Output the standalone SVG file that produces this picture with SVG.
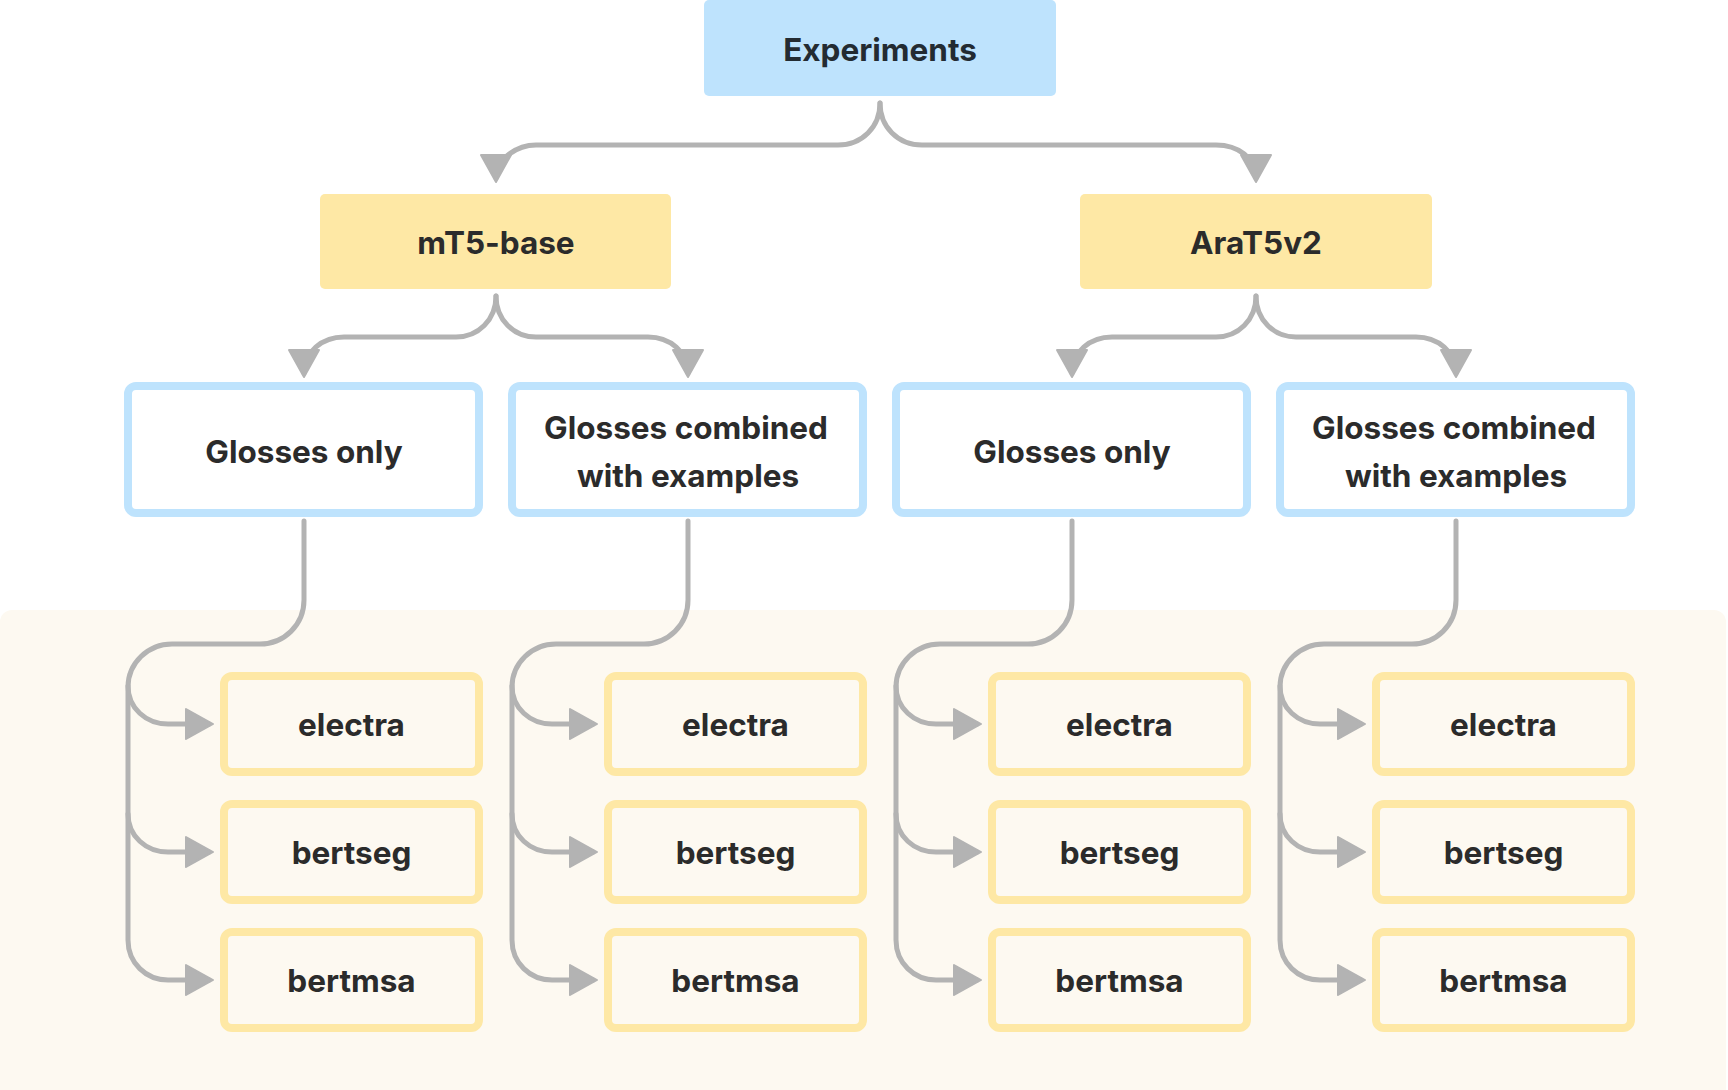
<svg xmlns="http://www.w3.org/2000/svg" width="1728" height="1090" viewBox="0 0 1728 1090">
<defs>
<style>
.t{font-family:Inter,"Liberation Sans",sans-serif;font-weight:700;font-size:31.5px;text-anchor:middle;dominant-baseline:central;fill:#2b2b2b}
.top{fill:#bee3fd}
.model{fill:#fee8a5}
.mode{fill:#ffffff;stroke:#bee3fd;stroke-width:8}
.leaf{fill:#fdf9f1;stroke:#fee8a5;stroke-width:8}
.c{fill:none;stroke:#b3b3b3;stroke-width:5;stroke-linecap:round;marker-end:url(#ah)}
</style>
<marker id="ah" markerUnits="userSpaceOnUse" viewBox="0 0 27 30" markerWidth="27" markerHeight="30" refX="23" refY="15" orient="auto" overflow="visible">
<path d="M0,0 L27,15 L0,30 Z" fill="#b3b3b3" stroke="#b3b3b3" stroke-width="2" stroke-linejoin="round"/>
</marker>
</defs>
<rect x="0" y="0" width="1728" height="1090" fill="#ffffff"/>
<rect id="panel" x="0" y="610" width="1726" height="500" rx="12" fill="#fdf9f1"/>

<g id="connectors">
<path class="c" d="M880,103 C880,127 862,145 838,145 L536,145 C518,145 496,158 496,178"/>
<path class="c" d="M880,103 C880,127 898,145 922,145 L1216,145 C1238,145 1256,158 1256,178"/>
<path class="c" d="M496,296 C496,320 478,337 456,337 L344,337 C322,337 304,352 304,373"/>
<path class="c" d="M496,296 C496,320 514,337 536,337 L648,337 C670,337 688,352 688,373"/>
<path class="c" d="M1256,296 C1256,320 1238,337 1216,337 L1112,337 C1090,337 1072,352 1072,373"/>
<path class="c" d="M1256,296 C1256,320 1274,337 1296,337 L1416,337 C1438,337 1456,352 1456,373"/>
<g id="col0c">
<path class="c" d="M304,521 L304,600 C304,625 284,644 260,644 L172,644 C148,644 128,663 128,687 L128,940 C128,963 146,980 168,980 L209,980"/>
<path class="c" d="M128,686 C128,708 146,724 168,724 L209,724"/>
<path class="c" d="M128,814 C128,836 146,852 168,852 L209,852"/>
</g>
<g id="col1c" transform="translate(384,0)">
<path class="c" d="M304,521 L304,600 C304,625 284,644 260,644 L172,644 C148,644 128,663 128,687 L128,940 C128,963 146,980 168,980 L209,980"/>
<path class="c" d="M128,686 C128,708 146,724 168,724 L209,724"/>
<path class="c" d="M128,814 C128,836 146,852 168,852 L209,852"/>
</g>
<g id="col2c" transform="translate(768,0)">
<path class="c" d="M304,521 L304,600 C304,625 284,644 260,644 L172,644 C148,644 128,663 128,687 L128,940 C128,963 146,980 168,980 L209,980"/>
<path class="c" d="M128,686 C128,708 146,724 168,724 L209,724"/>
<path class="c" d="M128,814 C128,836 146,852 168,852 L209,852"/>
</g>
<g id="col3c" transform="translate(1152,0)">
<path class="c" d="M304,521 L304,600 C304,625 284,644 260,644 L172,644 C148,644 128,663 128,687 L128,940 C128,963 146,980 168,980 L209,980"/>
<path class="c" d="M128,686 C128,708 146,724 168,724 L209,724"/>
<path class="c" d="M128,814 C128,836 146,852 168,852 L209,852"/>
</g>
</g>

<g id="experiments"><rect class="top" x="704" y="0" width="352" height="96" rx="5"/><text class="t" x="880" y="49" style="fill:#232b32">Experiments</text></g>
<g id="mt5"><rect class="model" x="320" y="194" width="351" height="95" rx="5"/><text class="t" x="496" y="242">mT5-base</text></g>
<g id="arat5"><rect class="model" x="1080" y="194" width="352" height="95" rx="5"/><text class="t" x="1256" y="242">AraT5v2</text></g>

<g id="mt5-glosses"><rect class="mode" x="128" y="386" width="351" height="127" rx="8"/><text class="t" x="304" y="451">Glosses only</text></g>
<g id="mt5-combined"><rect class="mode" x="512" y="386" width="351" height="127" rx="8"/><text class="t" x="686" y="427">Glosses combined</text><text class="t" x="688" y="475">with examples</text></g>
<g id="ara-glosses"><rect class="mode" x="896" y="386" width="351" height="127" rx="8"/><text class="t" x="1072" y="451">Glosses only</text></g>
<g id="ara-combined"><rect class="mode" x="1280" y="386" width="351" height="127" rx="8"/><text class="t" x="1454" y="427">Glosses combined</text><text class="t" x="1456" y="475">with examples</text></g>

<g id="c0-electra"><rect class="leaf" x="224" y="676" width="255" height="96" rx="8"/><text class="t" x="351.5" y="724">electra</text></g>
<g id="c0-bertseg"><rect class="leaf" x="224" y="804" width="255" height="96" rx="8"/><text class="t" x="351.5" y="852">bertseg</text></g>
<g id="c0-bertmsa"><rect class="leaf" x="224" y="932" width="255" height="96" rx="8"/><text class="t" x="351.5" y="980">bertmsa</text></g>

<g id="c1-electra"><rect class="leaf" x="608" y="676" width="255" height="96" rx="8"/><text class="t" x="735.5" y="724">electra</text></g>
<g id="c1-bertseg"><rect class="leaf" x="608" y="804" width="255" height="96" rx="8"/><text class="t" x="735.5" y="852">bertseg</text></g>
<g id="c1-bertmsa"><rect class="leaf" x="608" y="932" width="255" height="96" rx="8"/><text class="t" x="735.5" y="980">bertmsa</text></g>

<g id="c2-electra"><rect class="leaf" x="992" y="676" width="255" height="96" rx="8"/><text class="t" x="1119.5" y="724">electra</text></g>
<g id="c2-bertseg"><rect class="leaf" x="992" y="804" width="255" height="96" rx="8"/><text class="t" x="1119.5" y="852">bertseg</text></g>
<g id="c2-bertmsa"><rect class="leaf" x="992" y="932" width="255" height="96" rx="8"/><text class="t" x="1119.5" y="980">bertmsa</text></g>

<g id="c3-electra"><rect class="leaf" x="1376" y="676" width="255" height="96" rx="8"/><text class="t" x="1503.5" y="724">electra</text></g>
<g id="c3-bertseg"><rect class="leaf" x="1376" y="804" width="255" height="96" rx="8"/><text class="t" x="1503.5" y="852">bertseg</text></g>
<g id="c3-bertmsa"><rect class="leaf" x="1376" y="932" width="255" height="96" rx="8"/><text class="t" x="1503.5" y="980">bertmsa</text></g>
</svg>
